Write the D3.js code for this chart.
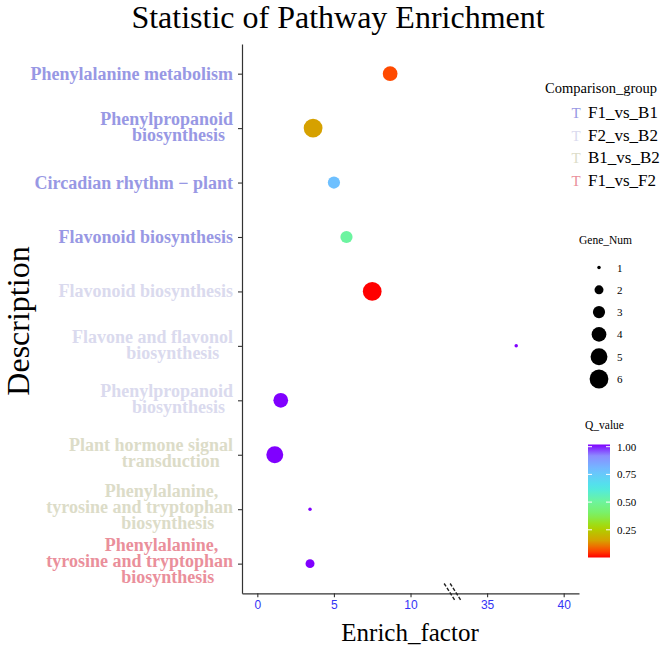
<!DOCTYPE html>
<html><head><meta charset="utf-8">
<script src="https://cdn.jsdelivr.net/npm/d3@7"></script>
<style>body{margin:0;background:#fff}svg{display:block}</style>
</head><body><svg id="c" width="668" height="649"></svg>
<script>
// ---------- data ----------
const pathways = [
  "Phenylalanine metabolism",
  "Phenylpropanoid\nbiosynthesis",
  "Circadian rhythm \u2212 plant",
  "Flavonoid biosynthesis",
  "Flavonoid biosynthesis",
  "Flavone and flavonol\nbiosynthesis",
  "Phenylpropanoid\nbiosynthesis",
  "Plant hormone signal\ntransduction",
  "Phenylalanine,\ntyrosine and tryptophan\nbiosynthesis",
  "Phenylalanine,\ntyrosine and tryptophan\nbiosynthesis"
];
const groups = ["F1_vs_B1","F1_vs_B1","F1_vs_B1","F1_vs_B1","F2_vs_B2","F2_vs_B2","F2_vs_B2","B1_vs_B2","B1_vs_B2","F1_vs_F2"];
const enrichFactor = [8.67, 3.64, 5.0, 5.82, 7.5, 36.9, 1.53, 1.14, 3.44, 3.44];
const geneNum = [4, 6, 3, 3, 6, 1, 4, 5, 1, 2];
const qValue = [0.06, 0.15, 0.77, 0.5, 0.0, 1.0, 1.0, 1.0, 1.0, 1.0];
const groupNames = ["F1_vs_B1","F2_vs_B2","B1_vs_B2","F1_vs_F2"];
const groupColors = ["#9898E4","#DADAEE","#DCDCC8","#EA8F9B"];
const xTicks = [0, 5, 10, 35, 40];
const sizeBreaks = [1, 2, 3, 4, 5, 6];
const qBreaks = [0.25, 0.5, 0.75, 1.0];
const qStops  = [0, 0.06, 0.15, 0.27, 0.38, 0.5, 0.62, 0.77, 0.9, 1];
const qColors = ["#FF0000","#FF4A00","#D6A100","#A8D800","#7CF060","#6CF4A0","#4EE8E8","#6EC0FF","#8C8CFF","#8000FF"];

// ---------- setup ----------
const svg = d3.select("#c");
const serif = "'Liberation Serif','Times New Roman',serif";
const sans = "'Liberation Sans',Arial,sans-serif";
const groupColor = d3.scaleOrdinal().domain(groupNames).range(groupColors);
const color = d3.scaleLinear().domain(qStops).range(qColors).interpolate(d3.interpolateRgb);
const area = d3.scaleLinear().domain([1, 6]).range([1.75*1.75, 9.4*9.4]);
const radius = v => Math.sqrt(area(v));

// broken x axis: 12.75..32.75 collapsed
const x = d3.scaleLinear().domain([-1, 12.75, 32.75, 41]).range([242, 452.65, 452.65, 579]);
const y = d3.scalePoint().domain(d3.range(pathways.length)).range([44, 593.3]).padding(0.545);

// ---------- title ----------
svg.append("text").attr("x", 338).attr("y", 28).attr("text-anchor", "middle")
  .style("font-family", serif).style("font-size", "32px").attr("fill", "#000")
  .text("Statistic of Pathway Enrichment");

// ---------- axes ----------
const xAxis = svg.append("g").attr("transform", "translate(0,593.3)")
  .call(d3.axisBottom(x).tickValues(xTicks).tickSize(4).tickSizeOuter(0).tickPadding(3));
xAxis.select(".domain").attr("stroke", "#333").attr("stroke-width", 1.2);
xAxis.selectAll(".tick line").attr("stroke", "#333").attr("stroke-width", 1.1);
xAxis.selectAll(".tick text").attr("fill", "#3434F5").style("font-family", sans).style("font-size", "12px");

// break marks
const bx = x(12.75);
[-3, 3].forEach(off => {
  svg.append("line").attr("x1", bx + off - 5.5).attr("y1", 583.5).attr("x2", bx + off + 5).attr("y2", 600)
    .attr("stroke", "#222").attr("stroke-width", 1.4).attr("stroke-dasharray", "3.5,1.8");
});

const yAxis = svg.append("g").attr("transform", "translate(242,0)")
  .call(d3.axisLeft(y).tickSize(4).tickSizeOuter(0).tickFormat(() => ""));
yAxis.select(".domain").attr("stroke", "#333").attr("stroke-width", 1.2);
yAxis.selectAll(".tick line").attr("stroke", "#333").attr("stroke-width", 1.1);

// y labels (multi-line, one text element per label; tight leading as in the reference)
const labG = svg.append("g");
const LS = 16;
pathways.forEach((p, i) => {
  const lines = p.split("\n");
  const n = lines.length;
  const t = labG.append("text")
    .attr("text-anchor", "end")
    .style("font-family", serif).style("font-size", "18px").style("font-weight", "bold")
    .attr("fill", groupColor(groups[i]));
  const spans = lines.map((ln, j) => t.append("tspan")
    .attr("x", 233)
    .attr("y", y(i) + 6 - (n - 1) * 1.3 + (j - (n - 1) / 2) * LS)
    .text(ln));
  const widths = spans.map(s => s.node().getComputedTextLength());
  const W = d3.max(widths);
  spans.forEach((s, j) => s.attr("x", 233 - (W - widths[j]) * 0.2));
});

// axis titles
svg.append("text").attr("transform", "translate(29,321) rotate(-90)").attr("text-anchor", "middle")
  .style("font-family", serif).style("font-size", "32px").text("Description");
svg.append("text").attr("x", 410).attr("y", 641).attr("text-anchor", "middle")
  .style("font-family", serif).style("font-size", "25px").text("Enrich_factor");

// ---------- points ----------
svg.append("g").selectAll("circle").data(d3.range(pathways.length)).join("circle")
  .attr("cx", i => x(enrichFactor[i]))
  .attr("cy", i => y(i))
  .attr("r", i => radius(geneNum[i]))
  .attr("fill", i => color(qValue[i]));

// ---------- legend: Comparison_group ----------
const lg = svg.append("g");
lg.append("text").attr("x", 545).attr("y", 93).style("font-family", serif).style("font-size", "14.5px")
  .text("Comparison_group");
groupNames.forEach((g, k) => {
  const by = 118 + k * 22.5;
  lg.append("text").attr("x", 576).attr("y", by).attr("text-anchor", "middle")
    .style("font-family", serif).style("font-size", "15px").attr("fill", groupColors[k]).text("T");
  lg.append("text").attr("x", 588).attr("y", by)
    .style("font-family", serif).style("font-size", "17px").attr("fill", "#000").text(g);
});

// ---------- legend: Gene_Num ----------
const sg = svg.append("g");
sg.append("text").attr("x", 579).attr("y", 243.5).style("font-family", serif).style("font-size", "11.5px")
  .text("Gene_Num");
sizeBreaks.forEach((v, k) => {
  const cy = 267.5 + k * 22.3;
  sg.append("circle").attr("cx", 599).attr("cy", cy).attr("r", radius(v)).attr("fill", "#000");
  sg.append("text").attr("x", 617).attr("y", cy + 4).style("font-family", serif).style("font-size", "11px").text(v);
});

// ---------- legend: Q_value colorbar ----------
const cbTop = 444.5, cbBot = 557.5, cbX = 588, cbW = 22;
const qy = d3.scaleLinear().domain([0, 1]).range([cbBot, 446.7]);
const defs = svg.append("defs");
const grad = defs.append("linearGradient").attr("id", "qgrad").attr("x1", 0).attr("y1", 1).attr("x2", 0).attr("y2", 0);
d3.range(0, 1.0001, 0.05).forEach(t => {
  grad.append("stop").attr("offset", t).attr("stop-color", color(t));
});
const cg = svg.append("g");
cg.append("text").attr("x", 585).attr("y", 429).style("font-family", serif).style("font-size", "11.5px").text("Q_value");
cg.append("rect").attr("x", cbX).attr("y", cbTop).attr("width", cbW).attr("height", cbBot - cbTop).attr("fill", "url(#qgrad)");
qBreaks.forEach(v => {
  const ty = qy(v);
  cg.append("line").attr("x1", cbX).attr("x2", cbX + 4).attr("y1", ty).attr("y2", ty).attr("stroke", "#fff").attr("stroke-width", 1);
  cg.append("line").attr("x1", cbX + cbW - 4).attr("x2", cbX + cbW).attr("y1", ty).attr("y2", ty).attr("stroke", "#fff").attr("stroke-width", 1);
  cg.append("text").attr("x", 617).attr("y", ty + 4).style("font-family", serif).style("font-size", "11px")
    .text(d3.format(".2f")(v));
});
</script>
</body></html>
